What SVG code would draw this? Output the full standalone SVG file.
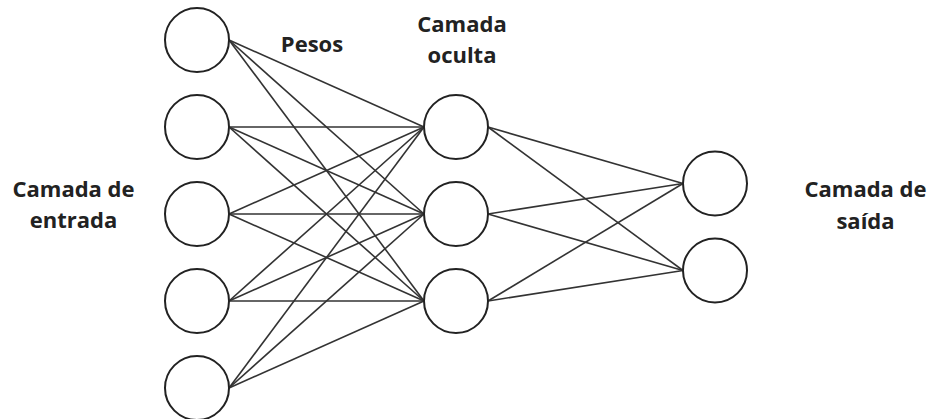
<svg xmlns="http://www.w3.org/2000/svg" width="929" height="419" viewBox="0 0 929 419">
<style>
.n{fill:#fff;stroke:#222;stroke-width:2}
.c line{stroke:#333;stroke-width:1.6}
.t{font-family:"Open Sans","Noto Sans",sans-serif;font-weight:bold;font-size:22px;fill:#222;text-anchor:middle}
</style>
<rect width="929" height="419" fill="#fff"/>
<g id="connectors" class="c">
<line x1="229" y1="40" x2="424" y2="127"/><line x1="229" y1="40" x2="424" y2="214"/><line x1="229" y1="40" x2="424" y2="301"/>
<line x1="229" y1="127" x2="424" y2="127"/><line x1="229" y1="127" x2="424" y2="214"/><line x1="229" y1="127" x2="424" y2="301"/>
<line x1="229" y1="214" x2="424" y2="127"/><line x1="229" y1="214" x2="424" y2="214"/><line x1="229" y1="214" x2="424" y2="301"/>
<line x1="229" y1="301" x2="424" y2="127"/><line x1="229" y1="301" x2="424" y2="214"/><line x1="229" y1="301" x2="424" y2="301"/>
<line x1="229" y1="388" x2="424" y2="127"/><line x1="229" y1="388" x2="424" y2="214"/><line x1="229" y1="388" x2="424" y2="301"/>
<line x1="488" y1="127" x2="683" y2="183.5"/><line x1="488" y1="127" x2="683" y2="270.5"/>
<line x1="488" y1="214" x2="683" y2="183.5"/><line x1="488" y1="214" x2="683" y2="270.5"/>
<line x1="488" y1="301" x2="683" y2="183.5"/><line x1="488" y1="301" x2="683" y2="270.5"/>
</g>
<g id="in1"><circle class="n" cx="197" cy="40" r="32"/></g>
<g id="in2"><circle class="n" cx="197" cy="127" r="32"/></g>
<g id="in3"><circle class="n" cx="197" cy="214" r="32"/></g>
<g id="in4"><circle class="n" cx="197" cy="301" r="32"/></g>
<g id="in5"><circle class="n" cx="197" cy="388" r="32"/></g>
<g id="h1"><circle class="n" cx="456" cy="127" r="32"/></g>
<g id="h2"><circle class="n" cx="456" cy="214" r="32"/></g>
<g id="h3"><circle class="n" cx="456" cy="301" r="32"/></g>
<g id="o1"><circle class="n" cx="715" cy="183.5" r="32"/></g>
<g id="o2"><circle class="n" cx="715" cy="270.5" r="32"/></g>
<g id="labels">
<text class="t" x="73.5" y="196.7">Camada de</text>
<text class="t" x="73.5" y="228">entrada</text>
<text class="t" x="312" y="51.7">Pesos</text>
<text class="t" x="462" y="31.7">Camada</text>
<text class="t" x="462" y="62.7">oculta</text>
<text class="t" x="865.5" y="196.7">Camada de</text>
<text class="t" x="865.5" y="229">saída</text>
</g>
</svg>
